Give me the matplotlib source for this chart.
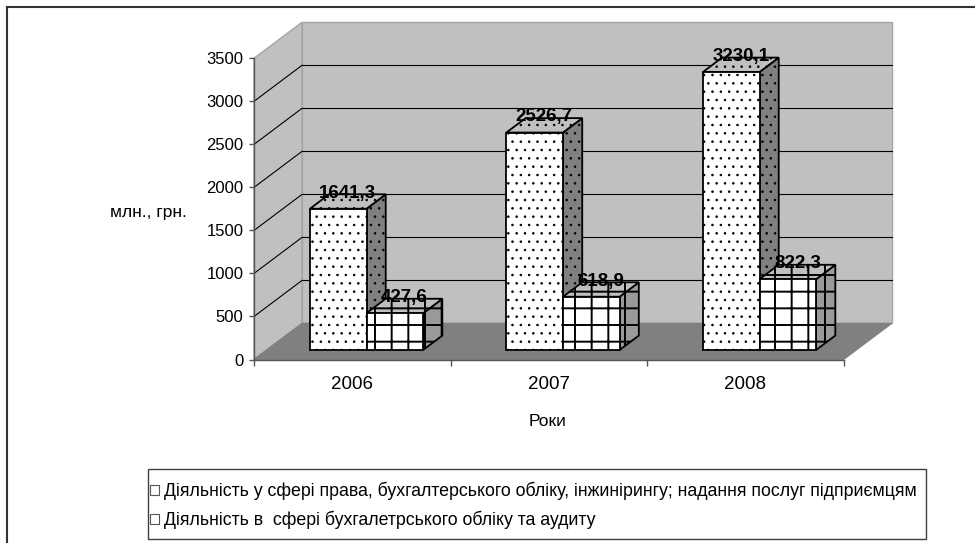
import numpy as np
import matplotlib.pyplot as plt
from matplotlib.patches import Polygon, Rectangle, Patch
from matplotlib.lines import Line2D

years = ['2006', '2007', '2008']
law_accounting = [1641.3, 2526.7, 3230.1]
audit = [427.6, 618.9, 822.3]
series_names = ['Діяльність у сфері права, бухгалтерського обліку, інжинірингу; надання послуг підприємцям',
                'Діяльність в  сфері бухгалетрського обліку та аудиту']
y_ticks = np.arange(0, 3501, 500)

plt.rcParams['font.family'] = ['Liberation Sans', 'DejaVu Sans']
plt.rcParams['hatch.linewidth'] = 1.0

fig = plt.figure(figsize=(9.75, 5.43), dpi=100)
# axes = front plane of the 3D box
ax = fig.add_axes([254 / 975, 1 - 359.5 / 543, 589.5 / 975, 301.2 / 543])
ax.set_xlim(0, 3)
ax.set_ylim(0, 3500)
ax.patch.set_visible(False)

# depth of the box in data units
dx = 0.2445
dy = 419


def proj(x, v, f):
    return (x + f * dx, v + f * dy)


def face(pts, hatch_lw=None, **kw):
    p = Polygon(pts, closed=True, clip_on=False, **kw)
    if hatch_lw is not None and hasattr(p, 'set_hatch_linewidth'):
        p.set_hatch_linewidth(hatch_lw)
    ax.add_patch(p)


ymax = y_ticks[-1]
wall = dict(facecolor='#c0c0c0', edgecolor='#a6a6a6', lw=1, zorder=0.5)
face([proj(0, 0, 0), proj(0, ymax, 0), proj(0, ymax, 1), proj(0, 0, 1)], **wall)
face([proj(0, 0, 1), proj(3, 0, 1), proj(3, ymax, 1), proj(0, ymax, 1)], **wall)
face([proj(0, 0, 0), proj(3, 0, 0), proj(3, 0, 1), proj(0, 0, 1)],
     facecolor='#808080', edgecolor='#808080', lw=1, zorder=0.6)

# gridlines on back wall + side wall
for v in y_ticks[1:-1]:
    bx, by = proj(0, v, 1)
    ex, ey = proj(3, v, 1)
    ax.plot([bx, ex], [by, ey], color='black', lw=0.8, zorder=0.8, clip_on=False)
    ax.plot([0, bx], [v, by], color='black', lw=0.8, zorder=0.8, clip_on=False)

# bars
bar_w = 0.288
start = 0.22
f0, f1 = 0.264, 0.664
fm = (f0 + f1) / 2
styles = [dict(hatch='..', hlw=0.6, top='#c0c0c0', side='#808080'),
          dict(hatch='+', hlw=1.4, top='#c0c0c0', side='#9a9a9a')]

for i in range(len(years)):
    for j, vals in enumerate([law_accounting, audit]):
        st = styles[j]
        x0 = i + start + j * bar_w
        x1 = x0 + bar_w
        v = vals[i]
        z = 2 + i * 0.1 + j * 0.05
        kw = dict(edgecolor='black', lw=1.3, hatch=st['hatch'], hatch_lw=st['hlw'], zorder=z)
        face([proj(x1, 0, f0), proj(x1, 0, f1), proj(x1, v, f1), proj(x1, v, f0)],
             facecolor=st['side'], **kw)
        face([proj(x0, v, f0), proj(x1, v, f0), proj(x1, v, f1), proj(x0, v, f1)],
             facecolor=st['top'], **kw)
        face([proj(x0, 0, f0), proj(x1, 0, f0), proj(x1, v, f0), proj(x0, v, f0)],
             facecolor='white', **kw)
        lx, ly = proj(x0 + bar_w / 2, v, fm)
        ax.annotate(f'{v:.1f}'.replace('.', ','), (lx, ly), xytext=(0, 6),
                    textcoords='offset points', ha='center', va='center',
                    fontsize=13.5, fontweight='bold', zorder=10, annotation_clip=False)

# axes
for s in ['top', 'right']:
    ax.spines[s].set_visible(False)
for s in ['left', 'bottom']:
    ax.spines[s].set_color('#555555')
    ax.spines[s].set_linewidth(1)
    ax.spines[s].set_zorder(1)

ax.set_yticks(y_ticks)
ax.set_yticklabels([str(t) for t in y_ticks])
ax.tick_params(axis='y', direction='out', length=3.5, width=1, color='#555555',
               labelsize=12, pad=4)
ax.set_xticks(np.arange(len(years) + 1))
ax.set_xticklabels([])
ax.tick_params(axis='x', which='major', direction='out', length=4, width=1, color='#555555')
ax.set_xticks(np.arange(len(years)) + 0.5, minor=True)
ax.set_xticklabels(years, minor=True)
ax.tick_params(axis='x', which='minor', length=0, labelsize=13.5, pad=12)

fig.text(187 / 975, 1 - 213 / 543, 'млн., грн.', ha='right', va='center', fontsize=12.5)
fig.text(548 / 975, 1 - 421.7 / 543, 'Роки', ha='center', va='center', fontsize=12.5)

# legend
handles = [Patch(facecolor='white', edgecolor='#555555', hatch='.', lw=0.8),
           Patch(facecolor='white', edgecolor='#555555', lw=0.8)]
fig.legend(handles, series_names, loc='center left',
           bbox_to_anchor=(150 / 975, 1 - 505.5 / 543), frameon=False, fontsize=12.8,
           handlelength=0.5, handleheight=0.5, handletextpad=0.3,
           labelspacing=0.58, borderpad=0, borderaxespad=0)
fig.add_artist(Rectangle((148 / 975, 1 - 539 / 543), 778 / 975, 70 / 543,
                         transform=fig.transFigure, fill=False, edgecolor='#404040', lw=1))

# outer chart border (top and left visible only)
fig.add_artist(Line2D([7 / 975, 7 / 975], [0, 1 - 7 / 543], color='#333333', lw=1.5))
fig.add_artist(Line2D([7 / 975, 1], [1 - 7 / 543, 1 - 7 / 543], color='#333333', lw=1.5))

plt.savefig('out.png', dpi=100)
